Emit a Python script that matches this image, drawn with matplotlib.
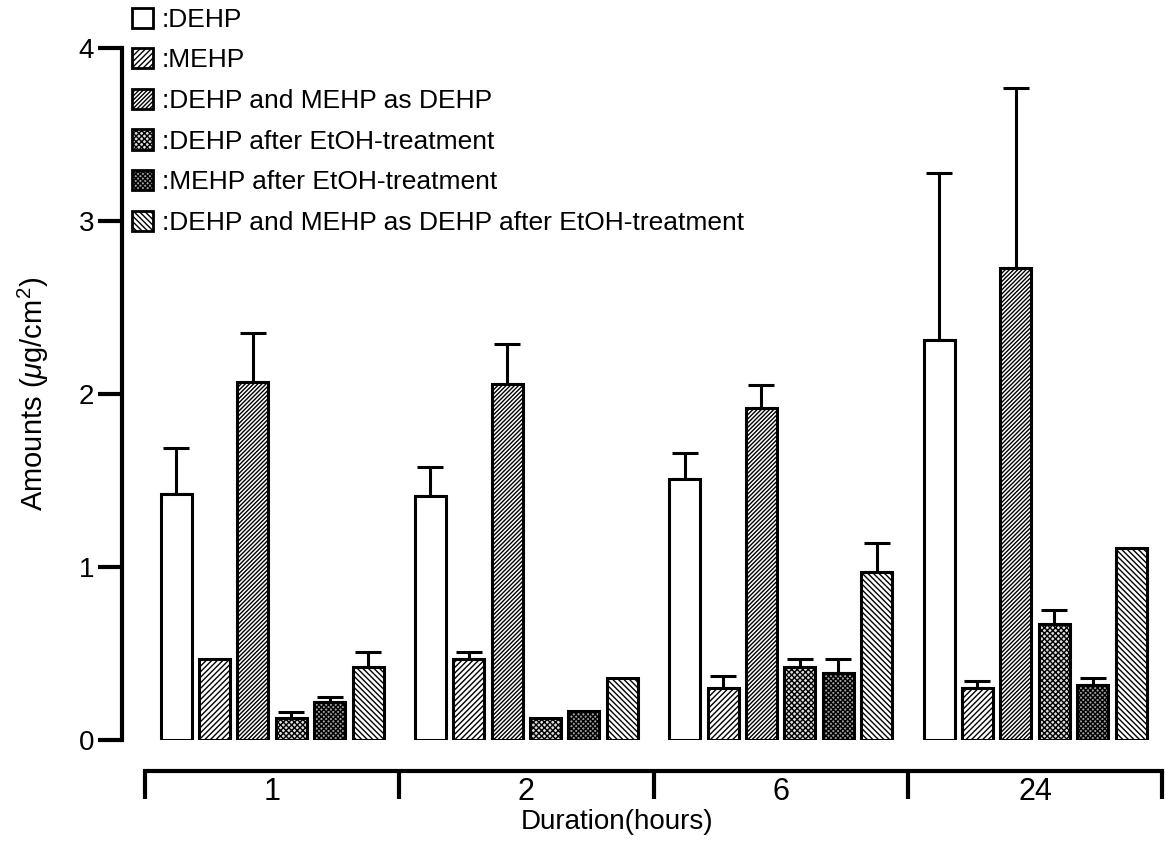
import numpy as np
import matplotlib
matplotlib.use("Agg")
import matplotlib.pyplot as plt
from matplotlib.patches import Patch

plt.rcParams['font.family'] = ['Liberation Sans', 'DejaVu Sans']
plt.rcParams['mathtext.fontset'] = 'custom'
plt.rcParams['mathtext.rm'] = 'Liberation Sans'
plt.rcParams['mathtext.it'] = 'Liberation Sans:italic'
plt.rcParams['hatch.linewidth'] = 1.0

# data
durations = ["1", "2", "6", "24"]
series = [":DEHP", ":MEHP", ":DEHP and MEHP as DEHP",
          ":DEHP after EtOH-treatment", ":MEHP after EtOH-treatment",
          ":DEHP and MEHP as DEHP after EtOH-treatment"]
# mean values, one row per series
means = [
    [1.42, 1.41, 1.51, 2.31],
    [0.47, 0.47, 0.30, 0.30],
    [2.07, 2.06, 1.92, 2.73],
    [0.13, 0.13, 0.42, 0.67],
    [0.22, 0.17, 0.39, 0.32],
    [0.42, 0.36, 0.97, 1.11],
]
# top of error bar (None = no error bar drawn)
err_top = [
    [1.69, 1.58, 1.66, 3.28],
    [None, 0.51, 0.37, 0.34],
    [2.35, 2.29, 2.05, 3.77],
    [0.16, None, 0.47, 0.75],
    [0.25, None, 0.47, 0.36],
    [0.51, None, 1.14, None],
]

faces = ['white', 'white', 'white', '#dedede', '#a0a0a0', 'white']
hatches = [None, '//////', '////////', 'xxxxxx', 'xxxxxxx', '\\\\\\\\\\\\']

fig = plt.figure(figsize=(11.66, 8.43), dpi=100)
W, H = 1166, 843
ax = fig.add_axes([122 / W, (H - 740) / H, (1166 - 122) / W, (740 - 48) / H])

x = np.arange(len(durations))
step = 0.151
width = 0.122
for i in range(len(series)):
    pos = x + (i - 2.5) * step
    ax.bar(pos, means[i], width, facecolor=faces[i], edgecolor='black',
           linewidth=2.2, hatch=hatches[i], zorder=2)
    for j in range(len(durations)):
        if err_top[i][j] is not None:
            ax.errorbar(pos[j], means[i][j],
                        yerr=[[0], [err_top[i][j] - means[i][j]]],
                        fmt='none', ecolor='black', elinewidth=2.2,
                        capsize=9.5, capthick=2.2, zorder=1)

ax.set_xlim(-0.59, 3.515)
ax.set_ylim(0, 4)

for s in ['top', 'right']:
    ax.spines[s].set_visible(False)
ax.spines['left'].set_linewidth(3)
ax.spines['left'].set_bounds(0, 4)
ax.spines['bottom'].set_linewidth(3)
ax.spines['bottom'].set_position(('outward', 22))
ax.spines['bottom'].set_bounds(-0.5, 3.5)

ax.set_yticks([0, 1, 2, 3, 4])
ax.tick_params(axis='y', direction='out', length=17, width=3, labelsize=20, pad=3)

ax.set_xticks(np.arange(-0.5, 4.0, 1.0))
ax.set_xticklabels([])
ax.tick_params(axis='x', which='major', direction='out', length=20, width=3)
ax.set_xticks(x, minor=True)
ax.set_xticklabels(durations, minor=True)
ax.tick_params(axis='x', which='minor', length=0, labelsize=22, pad=5)

ax.set_ylabel("Amounts ($\\mu$g/cm$^2$)", fontsize=21, labelpad=20)
fig.text(617 / W, 1 - 822 / H, "Duration(hours)", fontsize=20, ha='center', va='center')

handles = [Patch(facecolor=faces[i], edgecolor='black', linewidth=2, hatch=hatches[i])
           for i in range(len(series))]
fig.legend(handles, series, loc='upper left', bbox_to_anchor=(121 / W, 1 + 3 / H),
           frameon=False, fontsize=19, handlelength=0.8, handleheight=0.8,
           labelspacing=0.62, handletextpad=0.35, borderaxespad=0)

fig.savefig("out.png", dpi=100)
